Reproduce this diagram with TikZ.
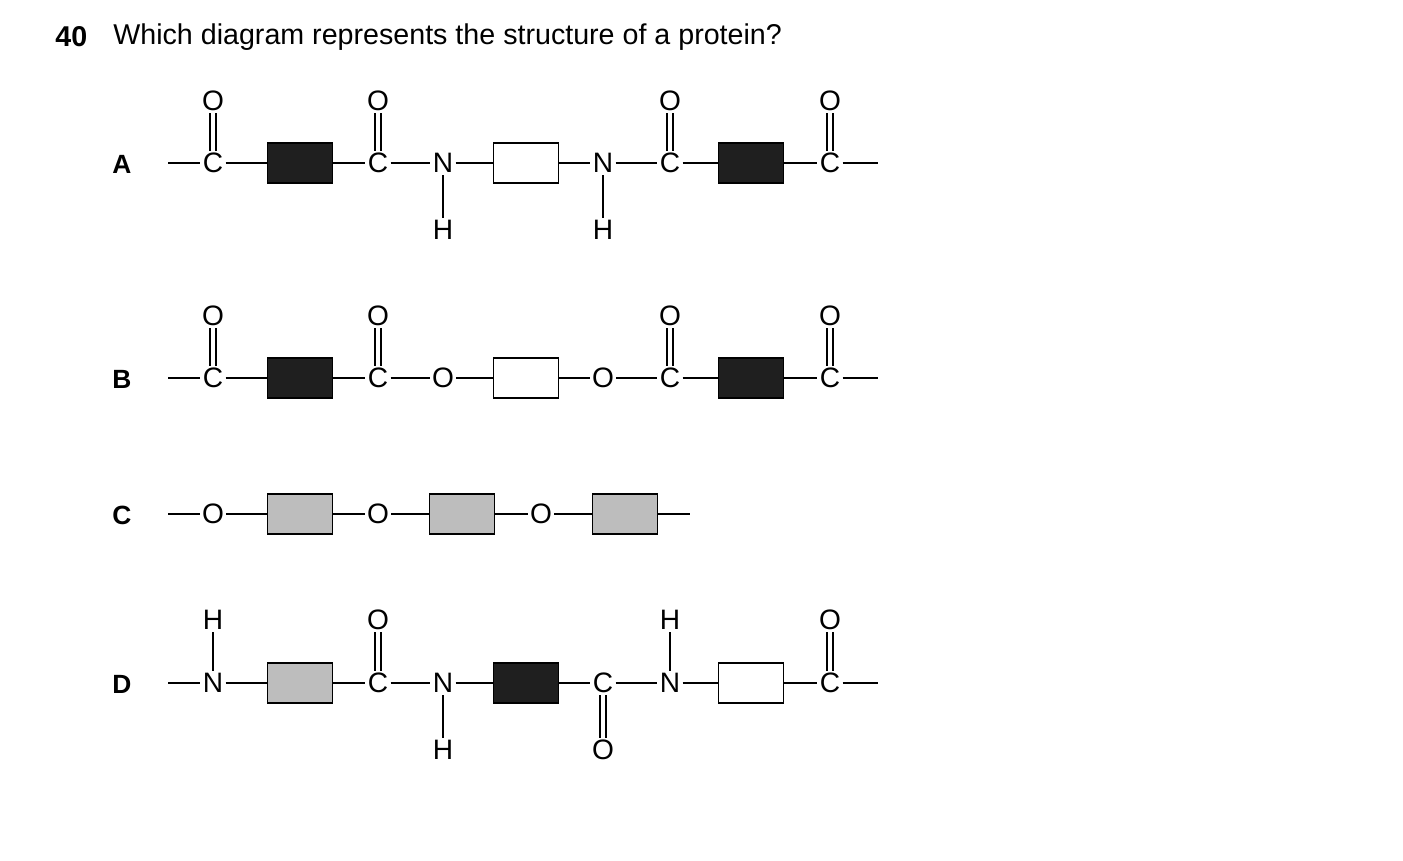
\documentclass[tikz,border=0pt]{standalone}
\usepackage{fontspec}
\setmainfont{Liberation Sans}
\usetikzlibrary{positioning}
\tikzset{
  atom/.style={inner sep=1.2pt,font=\fontsize{16}{18}\selectfont},
  res/.style={draw,line width=0.9pt,minimum width=1.3cm,minimum height=0.8cm,inner sep=0pt},
  dark/.style={res,fill=black!88},
  pale/.style={res,fill=black!26},
  blank/.style={res,fill=white},
  bond/.style={line width=0.8pt},
  dbl/.style={bond,double,double distance=2.4pt},
  tag/.style={font=\fontsize{15}{17}\selectfont\bfseries}
}
\begin{document}
\begin{tikzpicture}[x=0.02cm,y=-0.02cm]
\useasboundingbox (0,0) rectangle (1403,860);
\node[anchor=west,font=\fontsize{16.3}{18}\selectfont\bfseries,inner sep=0pt] (num) at (55,37) {40};
\node[anchor=west,font=\fontsize{16.3}{18}\selectfont,inner sep=0pt] (q) at (113,37) {Which diagram represents the structure of a protein?};
% labels
\node[tag] (la) at (122,164) {A};
\node[tag] (lb) at (122,379) {B};
\node[tag] (lc) at (122,515) {C};
\node[tag] (ld) at (122,684) {D};

% row A
\coordinate (a0) at (168,163);
\node[atom] (a1) at (213,163) {C};
\node[dark] (a2) at (300,163) {};
\node[atom] (a3) at (378,163) {C};
\node[atom] (a4) at (443,163) {N};
\node[blank] (a5) at (526,163) {};
\node[atom] (a6) at (603,163) {N};
\node[atom] (a7) at (670,163) {C};
\node[dark] (a8) at (751,163) {};
\node[atom] (a9) at (830,163) {C};
\coordinate (a10) at (878,163);
\node[atom] (ao1) at (213,101) {O};
\node[atom] (ao3) at (378,101) {O};
\node[atom] (ah4) at (443,230) {H};
\node[atom] (ah6) at (603,230) {H};
\node[atom] (ao7) at (670,101) {O};
\node[atom] (ao9) at (830,101) {O};
\draw[bond] (a0) -- (a1) -- (a2) -- (a3) -- (a4) -- (a5) -- (a6) -- (a7) -- (a8) -- (a9) -- (a10);
\foreach \i in {1,3,7,9} \draw[dbl] (a\i) -- (ao\i);
\draw[bond] (a4) -- (ah4);
\draw[bond] (a6) -- (ah6);

% row B
\coordinate (b0) at (168,378);
\node[atom] (b1) at (213,378) {C};
\node[dark] (b2) at (300,378) {};
\node[atom] (b3) at (378,378) {C};
\node[atom] (b4) at (443,378) {O};
\node[blank] (b5) at (526,378) {};
\node[atom] (b6) at (603,378) {O};
\node[atom] (b7) at (670,378) {C};
\node[dark] (b8) at (751,378) {};
\node[atom] (b9) at (830,378) {C};
\coordinate (b10) at (878,378);
\node[atom] (bo1) at (213,316) {O};
\node[atom] (bo3) at (378,316) {O};
\node[atom] (bo7) at (670,316) {O};
\node[atom] (bo9) at (830,316) {O};
\draw[bond] (b0) -- (b1) -- (b2) -- (b3) -- (b4) -- (b5) -- (b6) -- (b7) -- (b8) -- (b9) -- (b10);
\foreach \i in {1,3,7,9} \draw[dbl] (b\i) -- (bo\i);

% row C
\coordinate (c0) at (168,514);
\node[atom] (c1) at (213,514) {O};
\node[pale] (c2) at (300,514) {};
\node[atom] (c3) at (378,514) {O};
\node[pale] (c4) at (462,514) {};
\node[atom] (c5) at (541,514) {O};
\node[pale] (c6) at (625,514) {};
\coordinate (c7) at (690,514);
\draw[bond] (c0) -- (c1) -- (c2) -- (c3) -- (c4) -- (c5) -- (c6) -- (c7);

% row D
\coordinate (d0) at (168,683);
\node[atom] (d1) at (213,683) {N};
\node[pale] (d2) at (300,683) {};
\node[atom] (d3) at (378,683) {C};
\node[atom] (d4) at (443,683) {N};
\node[dark] (d5) at (526,683) {};
\node[atom] (d6) at (603,683) {C};
\node[atom] (d7) at (670,683) {N};
\node[blank] (d8) at (751,683) {};
\node[atom] (d9) at (830,683) {C};
\coordinate (d10) at (878,683);
\node[atom] (dh1) at (213,620) {H};
\node[atom] (do3) at (378,620) {O};
\node[atom] (dh4) at (443,750) {H};
\node[atom] (do6) at (603,750) {O};
\node[atom] (dh7) at (670,620) {H};
\node[atom] (do9) at (830,620) {O};
\draw[bond] (d0) -- (d1) -- (d2) -- (d3) -- (d4) -- (d5) -- (d6) -- (d7) -- (d8) -- (d9) -- (d10);
\foreach \i in {3,6,9} \draw[dbl] (d\i) -- (do\i);
\foreach \i in {1,4,7} \draw[bond] (d\i) -- (dh\i);
\end{tikzpicture}
\end{document}
